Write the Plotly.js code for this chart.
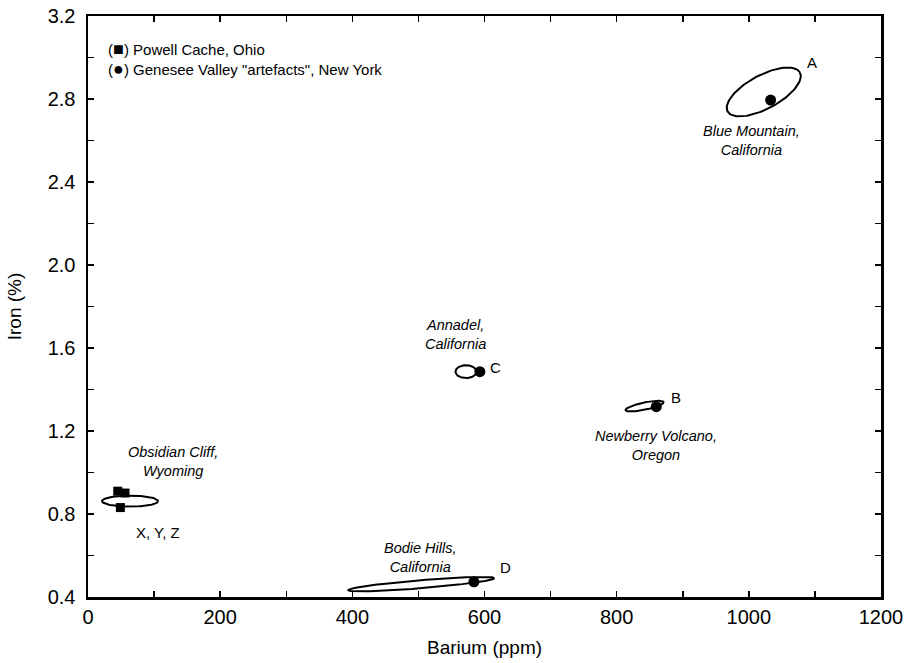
<!DOCTYPE html>
<html>
<head>
<meta charset="utf-8">
<script src="https://cdn.plot.ly/plotly-3.0.1.min.js"></script>
<style>html,body{margin:0;padding:0;background:#fff}#chart{width:909px;height:663px}</style>
</head>
<body>
<div id="chart"></div>
<script>
// Powell Cache, Ohio (squares)
var powellBa = [45, 56, 49];
var powellFe = [0.910, 0.901, 0.831];

// Genesee Valley "artefacts" (circles)
var geneseeBa = [1033, 593, 860, 584];
var geneseeFe = [2.795, 1.486, 1.317, 0.473];

// Source ellipses: centre and two conjugate half-axes (data units)
var ellNames = ["Blue Mountain", "Annadel", "Newberry Volcano", "Obsidian Cliff", "Bodie Hills"];
var ellCx = [1022.6, 572, 842.3, 63.6, 504.5];
var ellCy = [2.834, 1.486, 1.320, 0.862, 0.462];
var ellUx = [54.7, 15.9, 28.8, 42.4, 110.6];
var ellUy = [0.094, 0.0, 0.0193, 0.0, 0.0289];
var ellVx = [12.1, 0.0, 1.1, 0.0, 0.5];
var ellVy = [-0.071, -0.031, -0.0169, -0.0265, -0.0193];

// Labels
var srcLabels = ["<i>Blue Mountain,<br>California</i>", "<i>Annadel,<br>California</i>", "<i>Newberry Volcano,<br>Oregon</i>", "<i>Obsidian Cliff,<br>Wyoming</i>", "<i>Bodie Hills,<br>California</i>"];
var srcLabelX = [1004, 556, 859, 128, 503];
var srcLabelY = [2.60, 1.667, 1.132, 1.055, 0.592];
var letterLabels = ["A", "C", "B", "D", "X, Y, Z"];
var letterX = [1095, 616, 890, 632, 106];
var letterY = [2.978, 1.505, 1.36, 0.54, 0.713];

var legendLines = ["(<span style=\"font-size:18px\">\u25A0</span>) Powell Cache, Ohio", "(<span style=\"font-size:18px\">\u25CF</span>) Genesee Valley \"artefacts\", New York"];

var ex = [], ey = [];
for (var i = 0; i < ellCx.length; i++) {
  for (var k = 0; k <= 96; k++) {
    var t = 2 * Math.PI * k / 96;
    ex.push(ellCx[i] + ellUx[i] * Math.cos(t) + ellVx[i] * Math.sin(t));
    ey.push(ellCy[i] + ellUy[i] * Math.cos(t) + ellVy[i] * Math.sin(t));
  }
  ex.push(null); ey.push(null);
}

var font = "Arial, 'Liberation Sans', sans-serif";
var traces = [
  {x: ex, y: ey, mode: "lines", line: {color: "#000", width: 2}, hoverinfo: "skip", showlegend: false},
  {x: powellBa, y: powellFe, mode: "markers", marker: {symbol: "square", size: 9, color: "#000"}, showlegend: false},
  {x: geneseeBa, y: geneseeFe, mode: "markers", marker: {symbol: "circle", size: 11, color: "#000"}, showlegend: false}
];

var ann = [];
for (var j = 0; j < srcLabels.length; j++) {
  ann.push({x: srcLabelX[j], y: srcLabelY[j], xref: "x", yref: "y", text: srcLabels[j], showarrow: false,
    font: {family: font, size: 14.5, color: "#000"}, align: "center"});
}
for (var m = 0; m < letterLabels.length; m++) {
  ann.push({x: letterX[m], y: letterY[m], xref: "x", yref: "y", text: letterLabels[m], showarrow: false,
    xanchor: "center", font: {family: font, size: 15, color: "#000"}});
}
for (var n = 0; n < legendLines.length; n++) {
  ann.push({x: 0.0227, y: 0.943 - n * 0.034, xref: "paper", yref: "paper", text: legendLines[n], showarrow: false,
    xanchor: "left", yanchor: "middle", font: {family: font, size: 15, color: "#000"}});
}

var layout = {
  width: 909, height: 663,
  margin: {l: 88, r: 28, t: 16, b: 66},
  paper_bgcolor: "#fff", plot_bgcolor: "#fff",
  showlegend: false,
  font: {family: font, color: "#000"},
  xaxis: {
    range: [0, 1200], dtick: 200, tick0: 0, ticks: "inside", ticklen: 6, tickwidth: 1.5, tickcolor: "#000",
    minor: {dtick: 100, ticks: "inside", ticklen: 6, tickwidth: 1.5, tickcolor: "#000"},
    showgrid: false, zeroline: false, showline: true, linewidth: 2.5, linecolor: "#000", mirror: "ticks",
    tickfont: {size: 20, family: font, color: "#000"},
    title: {text: "Barium (ppm)", font: {size: 19, family: font, color: "#000"}, standoff: 14}
  },
  yaxis: {
    range: [0.4, 3.2], dtick: 0.4, tick0: 0.4, tickformat: ".1f", ticks: "inside", ticklen: 6, tickwidth: 1.5, tickcolor: "#000",
    minor: {dtick: 0.2, ticks: "inside", ticklen: 6, tickwidth: 1.5, tickcolor: "#000"},
    showgrid: false, zeroline: false, showline: true, linewidth: 2.5, linecolor: "#000", mirror: "ticks",
    tickfont: {size: 20, family: font, color: "#000"}, ticklabelstandoff: 6,
    title: {text: "Iron (%)", font: {size: 19, family: font, color: "#000"}, standoff: 21}
  },
  annotations: ann
};

Plotly.newPlot("chart", traces, layout, {displayModeBar: false, staticPlot: true});
</script>
</body>
</html>
